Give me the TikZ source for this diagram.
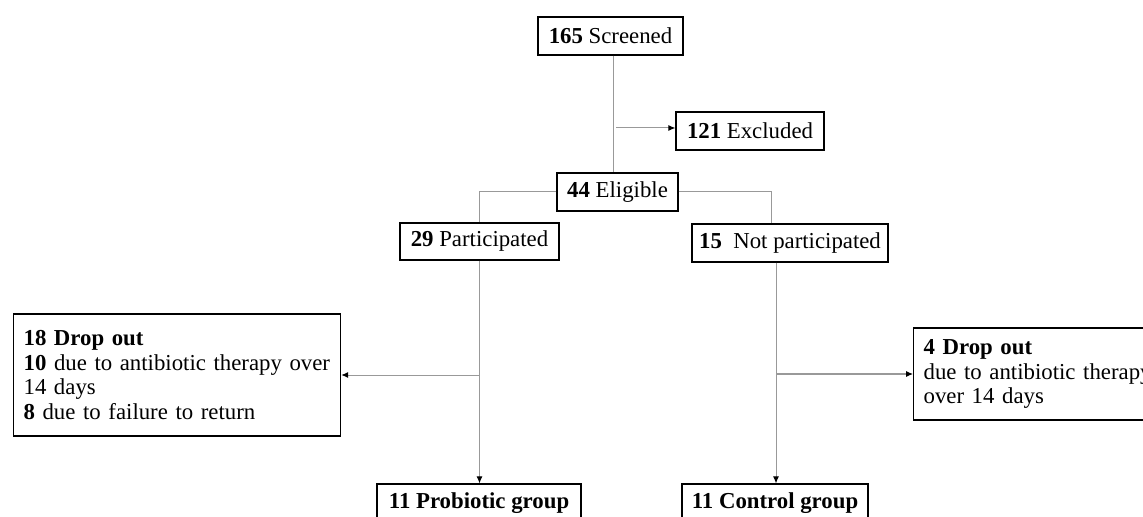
\documentclass[tikz,border=0pt]{standalone}
\usepackage{fontspec}
\setmainfont{Liberation Serif}
\usetikzlibrary{
  calc,positioning,
  arrows,arrows.meta
}

\begin{document}
\begin{tikzpicture}[x=0.5pt,y=-0.5pt,
  font=\fontsize{11.4}{12.25}\selectfont,
  box/.style={draw=black,line width=0.6pt,inner xsep=2pt,inner ysep=0pt,
    minimum height=19pt},
  listbox/.style={box,align=left,inner xsep=5pt,anchor=west},
  link/.style={draw=gray!80,line width=0.5pt},
  arr/.style={link,-{Latex[length=3.5pt,width=3pt,black]}}
]
\useasboundingbox (0,0) rectangle (1143,517);
\clip (0,0) rectangle (1143,517);

\node[box,minimum width=72.5pt] (screened) at (610.5,36) {\textbf{165} Screened};
\node[box,minimum width=74pt] (excluded) at (750,131) {\textbf{121} Excluded};
\node[box,minimum width=60.5pt] (eligible) at (617.5,192) {\textbf{44} Eligible};
\node[box,minimum width=79.5pt,minimum height=18.5pt] (part) at (479.5,241.5) {\textbf{29} Participated};
\node[box,minimum width=98pt] (notpart) at (790,243) {\textbf{15}\ \ Not participated};
\node[listbox,text width=153.5pt,minimum height=61pt] (dropA) at (13,375)
  {\textbf{18 Drop out}\\\textbf{10} due to antibiotic therapy over\\14 days\\\textbf{8} due to failure to return\par\vspace*{5pt}};
\node[listbox,text width=118pt,minimum height=46pt] (dropB) at (913,374)
  {\textbf{4 Drop out}\\due to antibiotic therapy\\over 14 days};
\node[box,minimum width=102pt] (probiotic) at (479,503) {\textbf{11 Probiotic group}};
\node[box,minimum width=93pt] (control) at (775,503) {\textbf{11 Control group}};

\coordinate (trunk) at (613,0);
\coordinate (excl) at (616,128);
\coordinate (npin) at (771,0);
\coordinate (ctrl) at (776,0);

\draw[link] (screened.south -| trunk) -- (eligible.north -| trunk);
\draw[arr] (excl) -- (excl -| excluded.west);
\draw[link] (eligible.west) -| (part.north);
\draw[link] (eligible.east) -| (notpart.north -| npin);
\draw[arr] (part.south) -- (part.south |- probiotic.north);
\draw[arr] (part.south |- dropA.east) -- (dropA.east);
\draw[arr] (notpart.south -| ctrl) -- (control.north -| ctrl);
\draw[arr] (dropB.west -| ctrl) -- (dropB.west);
\end{tikzpicture}
\end{document}
